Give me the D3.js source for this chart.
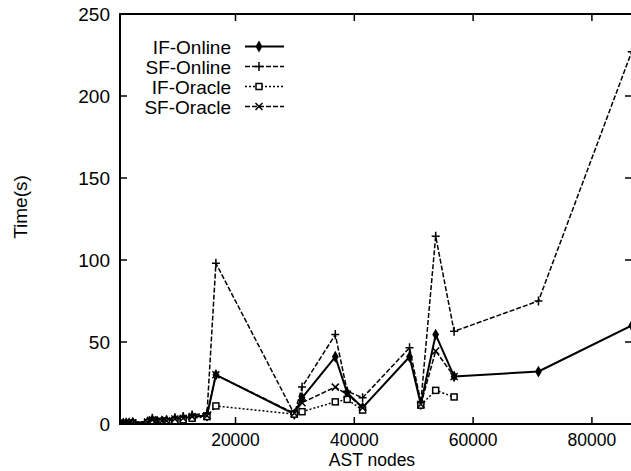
<!DOCTYPE html>
<html>
<head>
<meta charset="utf-8">
<script src="https://cdn.jsdelivr.net/npm/d3@7"></script>
<style>
  body { margin: 0; background: #fff; }
  svg { display: block; font-family: "Liberation Sans", Arial, sans-serif; }
  .tick-label { font-size: 19px; fill: #000; }
  .x-label { font-size: 17.5px; fill: #000; }
  .legend text { font-size: 19px; fill: #000; }
</style>
</head>
<body>
<svg></svg>
<script>
const astNodes = [600, 1100, 1600, 2100, 2700, 5200, 6000, 6800, 7600, 8400, 9800, 11200, 12700, 15200, 16700, 29900, 31200, 36800, 38800, 41400, 49300, 51200, 53700, 56800, 71000, 86700]
const ifOnline = [0.3, 0.4, 0.5, 0.5, 0.8, 1.2, 2.5, 1.5, 1.8, 2.0, 3.0, 3.5, 4.5, 5.0, 30, 6, 16, 41, 19, 10, 41, 12, 54.5, 29, 32, 60]
const sfOnline = [0.3, 0.5, 0.6, 0.6, 1.0, 1.5, 3.5, 2.0, 2.2, 2.5, 3.8, 4.5, 5.5, 6.5, 98, 6, 22.5, 54.5, 20, 16, 46.5, 13, 114.5, 56.5, 75, 227]
const ifOracle = [0.2, 0.3, 0.3, 0.4, 0.5, 0.8, 1.5, 1.0, 1.2, 1.4, 2.0, 2.5, 3.5, 4.5, 11, 6, 7.5, 13.5, 15, 8.5, null, 11.5, 20.5, 16.5, null, null]
const sfOracle = [0.3, 0.4, 0.5, 0.5, 0.8, 1.2, 2.5, 1.5, 1.8, 2.0, 3.0, 3.5, 4.5, 5.0, 30, 6.5, 13, 22.5, 18, 10, null, 12, 44.5, 29, null, null]
const seriesNames = ["IF-Online", "SF-Online", "IF-Oracle", "SF-Oracle"]
const xTicks = [20000, 40000, 60000, 80000]
const yTicks = [0, 50, 100, 150, 200, 250]

const width = 631, height = 471
const m = {left: 120, right: 632, top: 14, bottom: 424}

const svg = d3.select("svg")
    .attr("width", width)
    .attr("height", height)

const x = d3.scaleLinear()
    .domain([555, 86750])
    .range([m.left, m.right])

const y = d3.scaleLinear()
    .domain([0, 250])
    .range([m.bottom, m.top])

// marker shapes
const diamond = d3.symbol().type(d3.symbolDiamond).size(40)()
const plus = "M-4,0H4M0,-4.5V4.5"
const cross = "M-3.5,-3.5L3.5,3.5M-3.5,3.5L3.5,-3.5"

const styles = [
    {values: ifOnline, dash: null, width: 2, marker: "diamond"},
    {values: sfOnline, dash: "5,2", width: 1.5, marker: "plus"},
    {values: ifOracle, dash: "2,2", width: 1.5, marker: "square"},
    {values: sfOracle, dash: "5,2", width: 1.5, marker: "cross"}
]

svg.append("defs").append("clipPath")
    .attr("id", "plot")
    .append("rect")
    .attr("x", m.left)
    .attr("y", m.top)
    .attr("width", m.right - m.left)
    .attr("height", m.bottom - m.top)

const drawMarker = (g, kind) => {
    if (kind === "diamond") {
        g.append("path").attr("d", diamond).attr("fill", "#000")
    } else if (kind === "plus") {
        g.append("path").attr("d", plus).attr("stroke", "#000").attr("stroke-width", 1.5).attr("fill", "none")
    } else if (kind === "square") {
        g.append("rect").attr("x", -3).attr("y", -3).attr("width", 6).attr("height", 6)
            .attr("stroke", "#000").attr("stroke-width", 1.5).attr("fill", "#fff")
    } else {
        g.append("path").attr("d", cross).attr("stroke", "#000").attr("stroke-width", 1.5).attr("fill", "none")
    }
}

const plot = svg.append("g").attr("clip-path", "url(#plot)")

const lineGenerator = d3.line()
    .defined(d => d[1] !== null)
    .x(d => x(d[0]))
    .y(d => y(d[1]))

styles.forEach(s => {
    const pts = astNodes.map((n, i) => [n, s.values[i]])
    plot.append("path")
        .datum(pts)
        .attr("d", lineGenerator)
        .attr("fill", "none")
        .attr("stroke", "#000")
        .attr("stroke-width", s.width)
        .attr("stroke-dasharray", s.dash)
        .attr("stroke-linejoin", "round")

    plot.selectAll(null)
        .data(pts.filter(d => d[1] !== null))
        .enter()
        .append("g")
        .attr("transform", d => `translate(${x(d[0])},${y(d[1])})`)
        .each(function () { drawMarker(d3.select(this), s.marker) })
})

// frame
svg.append("rect")
    .attr("x", m.left)
    .attr("y", m.top)
    .attr("width", m.right - m.left)
    .attr("height", m.bottom - m.top)
    .attr("fill", "none")
    .attr("stroke", "#000")
    .attr("stroke-width", 2)

// inward ticks
const ticks = svg.append("g").attr("stroke", "#000").attr("stroke-width", 1.5)
xTicks.forEach(t => {
    ticks.append("line").attr("x1", x(t)).attr("x2", x(t)).attr("y1", m.bottom).attr("y2", m.bottom - 7)
    ticks.append("line").attr("x1", x(t)).attr("x2", x(t)).attr("y1", m.top).attr("y2", m.top + 7)
})
yTicks.forEach(t => {
    ticks.append("line").attr("x1", m.left).attr("x2", m.left + 7).attr("y1", y(t)).attr("y2", y(t))
    ticks.append("line").attr("x1", m.right).attr("x2", m.right - 7).attr("y1", y(t)).attr("y2", y(t))
})

svg.selectAll("text.ytick")
    .data(yTicks)
    .enter()
    .append("text")
    .attr("class", "tick-label")
    .attr("x", 110)
    .attr("y", d => y(d) + 7)
    .attr("text-anchor", "end")
    .text(d => d)

svg.selectAll("text.xtick")
    .data(xTicks)
    .enter()
    .append("text")
    .attr("class", "x-label")
    .attr("x", d => x(d))
    .attr("y", 446)
    .attr("text-anchor", "middle")
    .text(d => d)

svg.append("text")
    .attr("class", "x-label")
    .attr("x", 372)
    .attr("y", 466)
    .attr("text-anchor", "middle")
    .text("AST nodes")

svg.append("text")
    .attr("class", "tick-label")
    .attr("transform", "translate(27,207) rotate(-90)")
    .attr("text-anchor", "middle")
    .text("Time(s)")

// legend
const legend = svg.append("g").attr("class", "legend")
const rows = legend.selectAll("g")
    .data(seriesNames)
    .enter()
    .append("g")
    .attr("transform", (d, i) => `translate(0,${46.5 + i * 20})`)

rows.append("text")
    .attr("x", 231)
    .attr("y", 7)
    .attr("text-anchor", "end")
    .text(d => d)

rows.append("line")
    .attr("x1", 245)
    .attr("x2", 284)
    .attr("y1", 0)
    .attr("y2", 0)
    .attr("stroke", "#000")
    .attr("stroke-width", (d, i) => styles[i].width)
    .attr("stroke-dasharray", (d, i) => styles[i].dash)

rows.each(function (d, i) {
    const g = d3.select(this).append("g").attr("transform", "translate(259,0)")
    drawMarker(g, styles[i].marker)
})
</script>
</body>
</html>
